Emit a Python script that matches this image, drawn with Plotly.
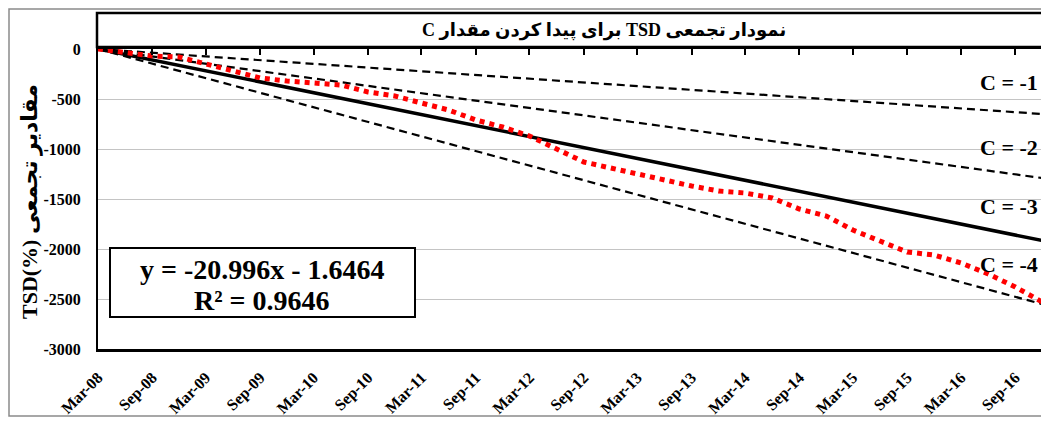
import plotly.graph_objects as go

# ---------------- data ----------------
obs_dates = ["2008-03-01", "2008-06-01", "2008-09-01", "2008-12-01", "2009-03-01", "2009-06-01",
             "2009-09-01", "2009-12-01", "2010-03-01", "2010-06-01", "2010-09-01", "2010-12-01",
             "2011-03-01", "2011-06-01", "2011-09-01", "2011-12-01", "2012-03-01", "2012-06-01",
             "2012-09-01", "2012-12-01", "2013-03-01", "2013-06-01", "2013-09-01", "2013-12-01",
             "2014-03-01", "2014-06-01", "2014-09-01", "2014-12-01", "2015-03-01", "2015-06-01",
             "2015-09-01", "2015-12-01", "2016-03-01", "2016-06-01", "2016-09-01", "2016-12-01",
             "2016-12-25"]
obs_tsd = [0, -40, -70, -80, -150, -220, -290, -320, -345, -360, -430, -470, -540, -610, -710,
           -780, -870, -1000, -1130, -1190, -1250, -1320, -1370, -1420, -1440, -1490, -1600,
           -1670, -1810, -1920, -2030, -2060, -2140, -2250, -2380, -2530, -2580]

line_dates = ["2008-03-01", "2016-12-25"]
c_labels = ["C = -1", "C = -2", "C = -3", "C = -4"]
c1_vals = [0, -655]
c2_vals = [0, -1300]
c3_vals = [0, -1930]   # fitted trend (solid)
c4_vals = [0, -2570]

y_tickvals = [0, -500, -1000, -1500, -2000, -2500, -3000]
y_ticktext = ["0", "-500", "-1000", "-1500", "-2000", "-2500", "-3000"]

RLE, PDF = "\u202b", "\u202c"
title_text = RLE + "نمودار تجمعی TSD برای پیدا کردن مقدار C" + PDF
ytitle_text = "TSD(%) مقادیر تجمعی"
eq_line1 = "y = -20.996x - 1.6464"
eq_line2 = "R² = 0.9646"

# ---------------- layout helpers ----------------
OFF = 8  # page body margin
W, H = 1033, 409
L, T = 90, 41
B = H - (349 - OFF)
R = 0
PW, PH = W - L - R, H - T - B
# x range end corresponds to reference pixel 1041 (last visible column)
xrange = ["2008-03-01", "2016-11-27"]


def px(xp):
    """reference-screenshot x pixel -> paper x"""
    return (xp - OFF - L) / PW


def py(yp):
    """reference-screenshot y pixel -> paper y"""
    return (H - B - (yp - OFF)) / PH


SERIF = "Liberation Serif, Times New Roman, DejaVu Sans"

fig = go.Figure()
dash_style = "8px,5px"
fig.add_trace(go.Scatter(x=line_dates, y=c1_vals, mode="lines",
                         line=dict(color="black", width=2.2, dash=dash_style), hoverinfo="skip"))
fig.add_trace(go.Scatter(x=line_dates, y=c2_vals, mode="lines",
                         line=dict(color="black", width=2.2, dash=dash_style), hoverinfo="skip"))
fig.add_trace(go.Scatter(x=line_dates, y=c4_vals, mode="lines",
                         line=dict(color="black", width=2.2, dash=dash_style), hoverinfo="skip"))
fig.add_trace(go.Scatter(x=line_dates, y=c3_vals, mode="lines",
                         line=dict(color="black", width=3.5), hoverinfo="skip"))
fig.add_trace(go.Scatter(x=obs_dates, y=obs_tsd, mode="lines",
                         line=dict(color="#ff0000", width=5, dash="5px,5px"), hoverinfo="skip"))

fig.update_layout(
    width=W, height=H, autosize=False,
    margin=dict(l=L, r=R, t=T, b=B),
    paper_bgcolor="white", plot_bgcolor="white",
    showlegend=False,
    xaxis=dict(
        type="date", range=xrange, tick0="2008-03-01", dtick="M6", tickformat="%b-%y",
        tickangle=-45, ticks="", showgrid=False, zeroline=False,
        showline=True, linecolor="black", linewidth=3,
        tickfont=dict(family=SERIF, size=16, color="black", weight="bold"),
        ticklabelstandoff=10,
    ),
    xaxis2=dict(
        type="date", range=xrange, tick0="2008-03-01", dtick="M6", overlaying="x", side="top",
        matches="x", showticklabels=False, ticks="inside", ticklen=6, tickwidth=2,
        tickcolor="black", showgrid=False, zeroline=False,
        showline=True, linecolor="black", linewidth=3,
    ),
    yaxis=dict(
        range=[-3000, 0], tickvals=y_tickvals, ticktext=y_ticktext, ticks="",
        showgrid=True, gridcolor="#c4c4c4", gridwidth=1, zeroline=False,
        showline=True, linecolor="black", linewidth=2,
        tickfont=dict(family=SERIF, size=16, color="black", weight="bold"),
        ticklabelstandoff=12,
    ),
)
fig.add_trace(go.Scatter(x=line_dates, y=[None, None], xaxis="x2", mode="lines",
                         hoverinfo="skip", showlegend=False))

shapes = [
    dict(type="rect", xref="paper", yref="paper", x0=px(9), x1=px(1070), y0=py(416), y1=py(9),
         line=dict(color="#8a8a8a", width=1.5), layer="below"),
    dict(type="rect", xref="paper", yref="paper", x0=px(97), x1=px(1070), y0=py(47), y1=py(13),
         line=dict(color="black", width=2.5)),
    dict(type="rect", xref="paper", yref="paper", x0=px(110), x1=px(415), y0=py(317), y1=py(248),
         line=dict(color="black", width=2), fillcolor="white", layer="above"),
]
fig.update_layout(shapes=shapes)

ann = [
    dict(text=title_text, x=px(604), y=py(30), xref="paper", yref="paper", showarrow=False,
         xanchor="center", yanchor="middle",
         font=dict(family=SERIF, size=18, color="black", weight="bold")),
    dict(text=ytitle_text, x=px(30), y=py(202), xref="paper", yref="paper", showarrow=False,
         textangle=-90, xanchor="center", yanchor="middle",
         font=dict(family=SERIF, size=22, color="black", weight="bold")),
    dict(text=eq_line1, x=px(262), y=py(269), xref="paper", yref="paper", showarrow=False,
         xanchor="center", yanchor="middle",
         font=dict(family=SERIF, size=28, color="black", weight="bold")),
    dict(text=eq_line2, x=px(262), y=py(300), xref="paper", yref="paper", showarrow=False,
         xanchor="center", yanchor="middle",
         font=dict(family=SERIF, size=28, color="black", weight="bold")),
]
label_y = [82, 147, 207, 264]
for lab, yy in zip(c_labels, label_y):
    ann.append(dict(text=lab, x=px(1040), y=py(yy), xref="paper", yref="paper", showarrow=False,
                    xanchor="right", yanchor="middle",
                    font=dict(family=SERIF, size=22, color="black", weight="bold")))
fig.update_layout(annotations=ann)

fig.write_html("out.html")
